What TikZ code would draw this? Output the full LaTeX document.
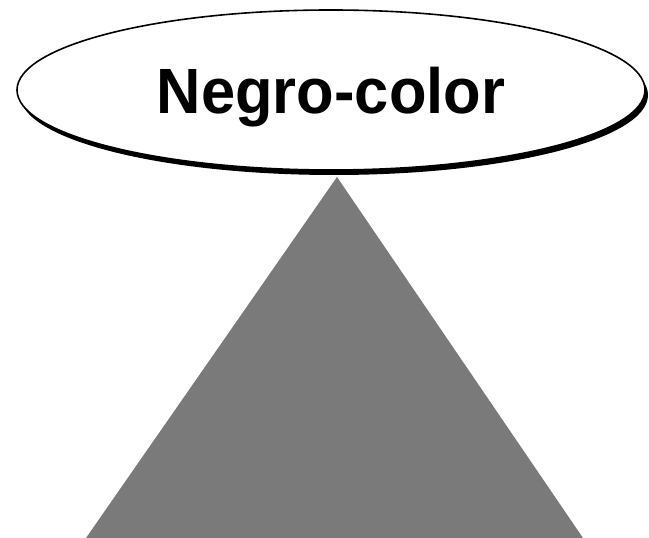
\documentclass[tikz,border=0pt]{standalone}
\usepackage{fontspec}
\setmainfont{Liberation Sans}
\usepackage{tikz}
\usetikzlibrary{shapes.geometric,positioning,shadows}

\begin{document}
\begin{tikzpicture}[x=1pt, y=1pt,
  title/.style={ellipse, draw=black, line width=1.6pt, fill=white,
                minimum width=628pt, minimum height=160pt, inner sep=0pt,
                text depth=0pt, font=\fontsize{64}{64}\selectfont\bfseries,
                drop shadow={shadow xshift=3pt, shadow yshift=-5pt, fill=black, opacity=1}},
  pyramid/.style={fill=black!52, draw=none}]
  \useasboundingbox (0,0) rectangle (649,538);
  % cone under the label
  \coordinate (apex) at (337,361);
  \coordinate (baseL) at (86,0);
  \coordinate (baseR) at (583,0);
  \fill[pyramid] (apex) -- (baseR) -- (baseL) -- cycle;
  \node[title] (label) at (331,448) {\scalebox{0.96}[1]{Negro-color}};
\end{tikzpicture}
\end{document}
